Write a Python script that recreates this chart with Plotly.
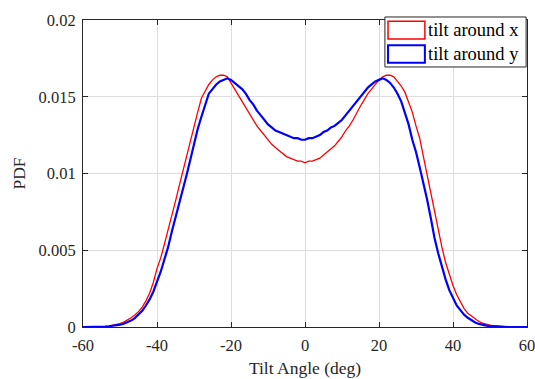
import plotly.graph_objects as go

angle_deg = list(range(-60, 61))

pdf_tilt_x = [
    0, 0, 0, 0, 0.00001, 0.00002, 0.00004, 0.00006, 0.0001, 0.00015,   # -60..-51
    0.00022, 0.00032, 0.00045, 0.0006, 0.00078, 0.0010, 0.0013, 0.0017, 0.0022, 0.0029,  # -50..-41
    0.0038, 0.0045, 0.0054, 0.0063, 0.0072, 0.0082, 0.0092, 0.0102, 0.0112, 0.0121,  # -40..-31
    0.0131, 0.0140, 0.0149, 0.0154, 0.0158, 0.0161, 0.0163, 0.0164, 0.0164, 0.0163,  # -30..-21
    0.0159, 0.0155, 0.0151, 0.0147, 0.0143, 0.0139, 0.0135, 0.0131, 0.0128, 0.0125,  # -20..-11
    0.0122, 0.0119, 0.0117, 0.0115, 0.0113, 0.0111, 0.0110, 0.0109, 0.0108, 0.0108,  # -10..-1
    0.0107,                                                                        # 0
    0.0108, 0.0108, 0.0109, 0.0110, 0.0112, 0.0114, 0.0116, 0.0118, 0.0121, 0.0124,  # 1..10
    0.0128, 0.0131, 0.0135, 0.0140, 0.0144, 0.0148, 0.0152, 0.0155, 0.0158, 0.0161,  # 11..20
    0.0163, 0.0164, 0.0164, 0.0163, 0.0160, 0.0157, 0.0153, 0.0147, 0.0140, 0.0131,  # 21..30
    0.0123, 0.0111, 0.0099, 0.0087, 0.0075, 0.0063, 0.0052, 0.0042, 0.0034, 0.0027,  # 31..40
    0.0021, 0.0016, 0.0012, 0.0009, 0.0007, 0.0005, 0.00036, 0.00025, 0.00017, 0.00012,  # 41..50
    0.00008, 0.00005, 0.00003, 0.00002, 0.00001, 0, 0, 0, 0, 0,                       # 51..60
]

pdf_tilt_y = [
    0, 0, 0, 0, 0.00001, 0.00002, 0.00003, 0.00005, 0.00007, 0.0001,   # -60..-51
    0.00015, 0.00021, 0.0003, 0.00042, 0.00058, 0.0008, 0.00105, 0.0014, 0.0018, 0.0023,  # -50..-41
    0.0029, 0.0036, 0.0044, 0.0052, 0.0062, 0.0071, 0.0081, 0.0090, 0.0099, 0.0109,  # -40..-31
    0.0120, 0.0129, 0.0137, 0.0145, 0.0152, 0.0155, 0.0158, 0.0160, 0.0161, 0.0162,  # -30..-21
    0.0161, 0.0159, 0.0157, 0.0155, 0.0152, 0.0148, 0.0145, 0.0141, 0.0138, 0.0135,  # -20..-11
    0.0132, 0.0130, 0.0128, 0.0127, 0.0126, 0.0125, 0.0124, 0.0123, 0.0123, 0.0122,  # -10..-1
    0.0122,                                                                        # 0
    0.0123, 0.0123, 0.0124, 0.0125, 0.0127, 0.0128, 0.0130, 0.0131, 0.0133, 0.0135,  # 1..10
    0.0138, 0.0141, 0.0144, 0.0147, 0.0150, 0.0153, 0.0156, 0.0158, 0.0160, 0.0161,  # 11..20
    0.0162, 0.0161, 0.0159, 0.0156, 0.0152, 0.0147, 0.0140, 0.0132, 0.0122, 0.0114,  # 21..30
    0.0104, 0.0094, 0.0083, 0.0071, 0.0058, 0.0048, 0.0039, 0.0031, 0.0024, 0.0019,  # 31..40
    0.0014, 0.0011, 0.0008, 0.0006, 0.00043, 0.0003, 0.0002, 0.00013, 0.00009, 0.00006,  # 41..50
    0.00004, 0.00002, 0.00001, 0, 0, 0, 0, 0, 0, 0,                                  # 51..60
]

x_ticks = [-60, -40, -20, 0, 20, 40, 60]
x_tick_labels = ["-60", "-40", "-20", "0", "20", "40", "60"]
y_ticks = [0, 0.005, 0.01, 0.015, 0.02]
y_tick_labels = ["0", "0.005", "0.01", "0.015", "0.02"]
series_names = ["tilt around x", "tilt around y"]
series_colors = ["#ff0000", "#0000ff"]

FONT = "Liberation Serif"
AX = "#262626"

fig = go.Figure()
fig.add_trace(go.Scatter(x=angle_deg, y=pdf_tilt_x, mode="lines", line_shape="linear",
                         line=dict(color=series_colors[0], width=1.3),
                         name=series_names[0], showlegend=False))
fig.add_trace(go.Scatter(x=angle_deg, y=pdf_tilt_y, mode="lines", line_shape="linear",
                         line=dict(color=series_colors[1], width=2.2),
                         name=series_names[1], showlegend=False))

axis_common = dict(showline=True, linecolor=AX, linewidth=1, mirror="ticks",
                   ticks="inside", ticklen=5, tickcolor=AX, tickwidth=1,
                   showgrid=True, gridcolor="#dedede", gridwidth=1, zeroline=False,
                   automargin=False, ticklabeloverflow="allow", ticklabelstandoff=3,
                   tickfont=dict(family=FONT, size=16.5, color=AX))

fig.update_xaxes(range=[-60, 60], tickvals=x_ticks, ticktext=x_tick_labels,
                 title=dict(text="Tilt Angle (deg)", font=dict(family=FONT, size=17.5, color=AX),
                            standoff=7),
                 **axis_common)
fig.update_yaxes(range=[0, 0.02], tickvals=y_ticks, ticktext=y_tick_labels,
                 title=dict(text="PDF", font=dict(family=FONT, size=17.5, color=AX), standoff=8),
                 **axis_common)

# legend box (MATLAB style)
shapes = [
    dict(type="rect", xref="paper", yref="paper", x0=0.680, x1=0.998, y0=0.847, y1=1.0098,
         line=dict(color=AX, width=1), fillcolor="white", layer="above"),
    dict(type="rect", xref="paper", yref="paper", x0=0.687, x1=0.770, y0=0.938, y1=0.9958,
         line=dict(color=series_colors[0], width=1.5), fillcolor="white", layer="above"),
    dict(type="rect", xref="paper", yref="paper", x0=0.687, x1=0.770, y0=0.861, y1=0.9176,
         line=dict(color=series_colors[1], width=2), fillcolor="white", layer="above"),
]
annotations = [
    dict(xref="paper", yref="paper", x=0.772, y=0.967, text=series_names[0], showarrow=False,
         xanchor="left", yanchor="middle", font=dict(family=FONT, size=18.5, color="black")),
    dict(xref="paper", yref="paper", x=0.772, y=0.889, text=series_names[1], showarrow=False,
         xanchor="left", yanchor="middle", font=dict(family=FONT, size=18.5, color="black")),
]

fig.update_layout(width=535, height=379, margin=dict(l=83, r=8, t=20, b=52),
                  plot_bgcolor="white", paper_bgcolor="white",
                  shapes=shapes, annotations=annotations, showlegend=False)

fig.write_html("out.html", config={"displayModeBar": False})

# remove the default page margin so the figure sits at the window's top-left corner
with open("out.html", "r", encoding="utf-8") as f:
    html = f.read()
html = html.replace("<head>", "<head><style>html,body{margin:0;padding:0;overflow:hidden;}</style>", 1)
with open("out.html", "w", encoding="utf-8") as f:
    f.write(html)
